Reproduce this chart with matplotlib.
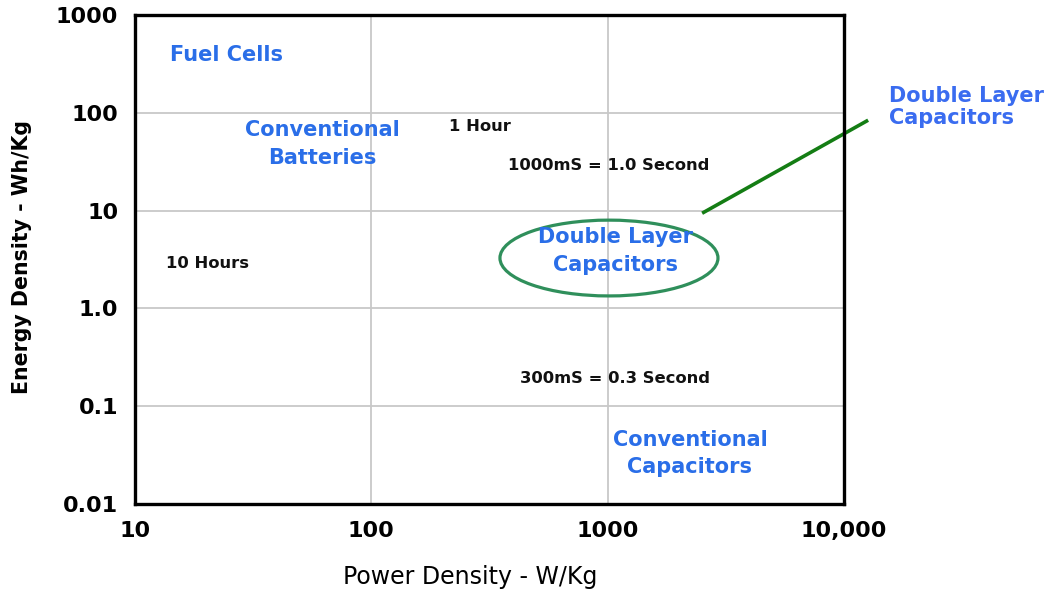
import matplotlib
matplotlib.use('Agg')
import matplotlib.pyplot as plt
from matplotlib.patches import Ellipse

plt.rcParams['font.family'] = ['DejaVu Sans']

# axis ticks
x_ticks = [10, 100, 1000, 10000]
x_tick_labels = ['10', '100', '1000', '10,000']
y_ticks = [0.01, 0.1, 1, 10, 100, 1000]
y_tick_labels = ['0.01', '0.1', '1.0', '10', '100', '1000']

# blue region labels (power W/kg, energy Wh/kg)
region_names = ['Fuel Cells', 'Conventional\nBatteries', 'Double Layer\nCapacitors',
                'Conventional\nCapacitors']
region_power = [24.5, 62, 1075, 2230]
region_energy = [390, 48, 3.86, 0.033]

# black time-constant notes
note_names = ['1 Hour', '1000mS = 1.0 Second', '10 Hours', '300mS = 0.3 Second']
note_power = [288, 1010, 20.2, 1075]
note_energy = [72, 28.6, 2.9, 0.19]

# callout line ends
callout_power = [2510, 12650]
callout_energy = [9.4, 84]

BLUE = '#2a6ee8'

fig = plt.figure(figsize=(10.6, 5.92), dpi=100)
ax = fig.add_axes([135 / 1060, 1 - 504 / 592, 709 / 1060, 489 / 592])
ax.set_xscale('log')
ax.set_yscale('log')
ax.set_xlim(10, 10000)
ax.set_ylim(0.01, 1000)

ax.set_xticks(x_ticks)
ax.set_xticklabels(x_tick_labels)
ax.set_yticks(y_ticks)
ax.set_yticklabels(y_tick_labels)
ax.minorticks_off()
ax.tick_params(length=0, labelsize=16)
ax.tick_params(axis='x', pad=12)
ax.tick_params(axis='y', pad=12)
for lab in ax.get_xticklabels() + ax.get_yticklabels():
    lab.set_fontweight('bold')

for v in x_ticks[1:-1]:
    ax.axvline(v, color='#c8c8c8', lw=1.3, zorder=0)
for v in y_ticks[1:-1]:
    ax.axhline(v, color='#c8c8c8', lw=1.3, zorder=0)

for s in ax.spines.values():
    s.set_linewidth(2.4)
    s.set_color('black')

for name, px, ey in zip(region_names, region_power, region_energy):
    ax.text(px, ey, name, color=BLUE, fontsize=15, fontweight='bold',
            ha='center', va='center', linespacing=1.45)

for name, px, ey in zip(note_names, note_power, note_energy):
    ax.text(px, ey, name, color='#111111', fontsize=11.8, fontweight='bold',
            ha='center', va='center')

ax.add_patch(Ellipse((0.6685, 0.503), 0.3075, 0.155, transform=ax.transAxes,
                     fill=False, ec='#2f8f5b', lw=2.3))

ax.plot(callout_power, callout_energy, color='#147d14', lw=2.6, clip_on=False,
        solid_capstyle='butt')

fig.text(889 / 1060, 1 - 107 / 592, 'Double Layer\nCapacitors', color='#3a6cf0',
         fontsize=15, fontweight='bold', ha='left', va='center', linespacing=1.15)

fig.text(470 / 1060, 1 - 577 / 592, 'Power Density - W/Kg', fontsize=17,
         ha='center', va='center', family=['Liberation Sans Narrow', 'DejaVu Sans'])
fig.text(22 / 1060, 1 - 257 / 592, 'Energy Density - Wh/Kg', fontsize=14.8,
         fontweight='bold', rotation=90, ha='center', va='center')

fig.savefig('out.png', dpi=100, facecolor='white')
